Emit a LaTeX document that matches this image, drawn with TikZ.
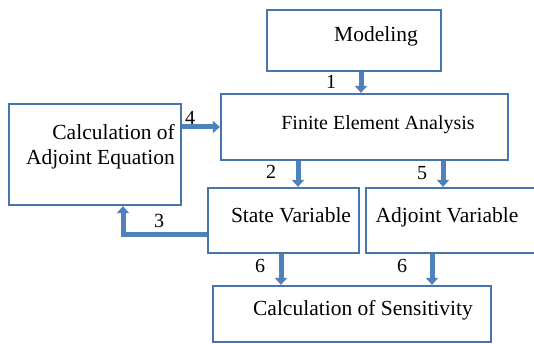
\documentclass[tikz,border=0pt]{standalone}
\usepackage{fontspec}
\setmainfont{Liberation Serif}
\newfontfamily\timesf{Liberation Serif}
\usetikzlibrary{arrows.meta}
\definecolor{boxblue}{RGB}{70,118,170}
\definecolor{arrblue}{RGB}{79,129,189}
\begin{document}
\begin{tikzpicture}[x=1pt,y=-1pt,
  box/.style={draw=boxblue, line width=2.2pt, rectangle, inner sep=0pt},
  txt/.style={font=\timesf\fontsize{21.5}{25}\selectfont, inner sep=0pt, text=black},
  num/.style={font=\timesf\fontsize{20}{24}\selectfont, inner sep=0pt, text=black},
  flow/.style={draw=arrblue, line width=5pt, -{Triangle[length=7pt,width=12pt]}}]
\useasboundingbox (0,0) rectangle (534,344);
\clip (0,0) rectangle (534,344);
% boxes
\node[box, minimum width=174pt, minimum height=61pt] (modeling) at (354,40.5) {};
\node[box, minimum width=287pt, minimum height=66pt] (fea) at (364.5,127) {};
\node[box, minimum width=172pt, minimum height=101pt] (adjeq) at (95,154.5) {};
\node[box, minimum width=151pt, minimum height=65pt] (state) at (283.5,220.5) {};
\node[box, minimum width=172pt, minimum height=65pt] (adjvar) at (452,220.5) {};
\node[box, minimum width=278pt, minimum height=56pt] (sens) at (352,314) {};
% texts
\node[txt] (modelingt) at (376,36) {Modeling};
\node[txt, font=\timesf\fontsize{20}{24}\selectfont] (feat) at (378,125) {Finite Element Analysis};
\node[txt, align=right, anchor=east] (adjeqt) at (175,147) {Calculation of\\Adjoint Equation};
\node[txt] (statet) at (291,215) {State Variable};
\node[txt] (adjvart) at (447,217) {Adjoint Variable};
\node[txt] (senst) at (363,310) {Calculation of Sensitivity};
% connectors
\coordinate (a1) at ([xshift=7pt]modeling.south);
\draw[flow] (a1) -- (a1 |- fea.north);
\draw[flow] (adjeq.east |- fea.west) -- (fea.west);
\coordinate (a2) at ([xshift=14.5pt]state.north);
\draw[flow] (a2 |- fea.south) -- (a2);
\coordinate (a5) at ([xshift=-9pt]adjvar.north);
\draw[flow] (a5 |- fea.south) -- (a5);
\coordinate (a3s) at ([yshift=-13.5pt]state.west);
\coordinate (a3e) at ([xshift=28pt]adjeq.south);
\draw[flow] (a3s) -| (a3e);
\coordinate (a6) at ([xshift=-2.5pt]state.south);
\draw[flow] (a6) -- (a6 |- sens.north);
\coordinate (a7) at ([xshift=-20pt]adjvar.south);
\draw[flow] (a7) -- (a7 |- sens.north);
% numbers
\node[num] (n1) at (331,82) {1};
\node[num] (n4) at (190,118) {4};
\node[num] (n2) at (271,172) {2};
\node[num] (n5) at (422,173) {5};
\node[num] (n3) at (159,221) {3};
\node[num] (n6a) at (260,266) {6};
\node[num] (n6b) at (402,266) {6};
\end{tikzpicture}
\end{document}
